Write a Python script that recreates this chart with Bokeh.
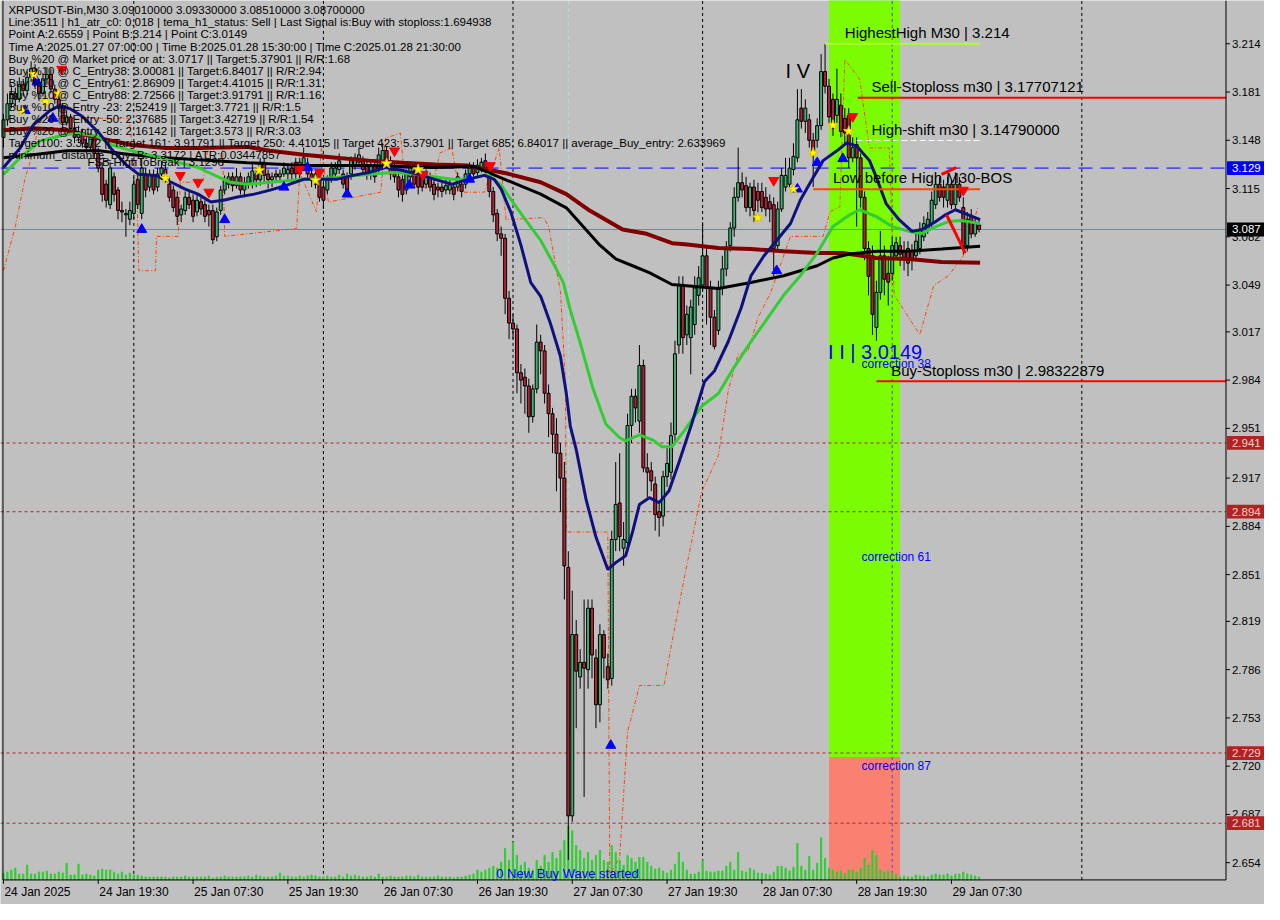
from bokeh.plotting import figure
from bokeh.models import Range1d, Label
from bokeh.embed import file_html
from bokeh.resources import INLINE
from bokeh.core.properties import value

FONT = "Liberation Sans"

# ---------------- data (XRPUSDT M30, bar 0 = 24 Jan 2025 07:30) ----------------
opens = [3.150,3.162,3.173,3.180,3.176,3.186,3.182,3.191,3.197,3.186,
 3.180,3.190,3.193,3.183,3.176,3.170,3.160,3.164,3.156,3.150,
 3.153,3.146,3.143,3.150,3.139,3.129,3.118,3.104,3.123,3.114,
 3.100,3.097,3.094,3.098,3.121,3.098,3.125,3.116,3.124,3.116,
 3.125,3.128,3.118,3.114,3.109,3.097,3.100,3.109,3.107,3.099,
 3.106,3.104,3.100,3.100,3.082,3.100,3.114,3.118,3.123,3.117,
 3.123,3.114,3.118,3.118,3.125,3.121,3.133,3.125,3.121,3.125,
 3.123,3.125,3.125,3.129,3.133,3.125,3.131,3.131,3.125,3.118,
 3.123,3.116,3.114,3.123,3.125,3.128,3.125,3.123,3.125,3.131,
 3.133,3.134,3.131,3.125,3.131,3.129,3.134,3.141,3.134,3.129,
 3.123,3.121,3.114,3.123,3.127,3.125,3.123,3.118,3.123,3.118,
 3.116,3.116,3.114,3.114,3.116,3.116,3.118,3.118,3.125,3.129,
 3.126,3.129,3.134,3.128,3.113,3.098,3.084,3.081,3.040,3.023,
 3.019,2.989,2.986,2.980,2.959,2.978,3.010,3.004,2.975,2.961,
 2.947,2.934,2.917,2.856,2.686,2.810,2.781,2.791,2.786,2.828,
 2.794,2.762,2.810,2.788,2.780,2.875,2.900,2.869,2.873,2.953,
 2.973,2.956,2.994,2.924,2.922,2.913,2.894,2.891,2.918,2.921,
 2.947,3.008,3.049,3.015,3.013,3.022,3.042,3.049,3.069,3.047,
 3.027,3.018,3.047,3.060,3.076,3.088,3.109,3.119,3.117,3.102,
 3.116,3.113,3.113,3.109,3.106,3.104,3.076,3.101,3.116,3.118,
 3.128,3.136,3.170,3.161,3.162,3.148,3.148,3.158,3.195,3.185,
 3.176,3.165,3.172,3.163,3.165,3.136,3.145,3.136,3.109,3.074,
 3.069,3.020,3.044,3.069,3.057,3.057,3.069,3.076,3.072,3.074,
 3.072,3.069,3.074,3.082,3.087,3.091,3.104,3.118,3.116,3.107,
 3.118,3.104,3.118,3.102,3.076,3.096,3.084,3.0901]
closes = [3.162,3.173,3.180,3.176,3.186,3.182,3.191,3.197,3.186,3.180,
 3.190,3.193,3.183,3.176,3.170,3.160,3.164,3.156,3.150,3.153,
 3.146,3.143,3.150,3.139,3.129,3.111,3.107,3.129,3.111,3.100,
 3.099,3.098,3.100,3.118,3.104,3.129,3.114,3.124,3.114,3.125,
 3.129,3.125,3.109,3.102,3.096,3.101,3.109,3.104,3.096,3.107,
 3.101,3.096,3.097,3.080,3.099,3.114,3.121,3.123,3.117,3.123,
 3.114,3.119,3.123,3.127,3.121,3.133,3.124,3.121,3.123,3.123,
 3.125,3.129,3.128,3.125,3.125,3.133,3.136,3.125,3.121,3.125,
 3.109,3.107,3.121,3.129,3.129,3.134,3.118,3.114,3.134,3.136,
 3.138,3.128,3.125,3.131,3.123,3.138,3.141,3.134,3.125,3.123,
 3.114,3.111,3.125,3.129,3.118,3.116,3.116,3.125,3.116,3.111,
 3.114,3.113,3.117,3.118,3.111,3.123,3.113,3.125,3.129,3.125,
 3.131,3.133,3.129,3.113,3.097,3.084,3.081,3.040,3.023,3.019,
 2.989,2.984,2.980,2.959,2.978,3.010,3.004,2.975,2.961,2.947,
 2.934,2.917,2.857,2.686,2.810,2.785,2.791,2.787,2.828,2.796,
 2.762,2.810,2.794,2.779,2.875,2.899,2.877,2.875,2.953,2.973,
 2.965,2.994,2.924,2.921,2.915,2.892,2.890,2.918,2.927,2.946,
 3.002,3.049,3.013,3.029,3.034,3.047,3.054,3.069,3.047,3.027,
 3.007,3.047,3.060,3.074,3.088,3.109,3.119,3.114,3.102,3.116,
 3.100,3.107,3.102,3.101,3.101,3.074,3.101,3.124,3.124,3.129,
 3.137,3.162,3.161,3.170,3.148,3.139,3.158,3.195,3.185,3.164,
 3.156,3.176,3.154,3.153,3.136,3.143,3.136,3.109,3.074,3.055,
 3.029,3.044,3.069,3.053,3.051,3.076,3.078,3.070,3.068,3.064,
 3.066,3.079,3.087,3.091,3.094,3.107,3.118,3.109,3.109,3.118,
 3.104,3.118,3.109,3.076,3.094,3.084,3.091,3.0870]
highs = [3.166,3.180,3.186,3.184,3.191,3.190,3.195,3.202,3.200,3.190,
 3.194,3.198,3.197,3.186,3.180,3.173,3.168,3.166,3.160,3.158,
 3.156,3.150,3.153,3.152,3.143,3.133,3.121,3.133,3.126,3.116,
 3.106,3.101,3.106,3.123,3.126,3.136,3.129,3.128,3.128,3.129,
 3.134,3.133,3.123,3.117,3.113,3.104,3.113,3.113,3.111,3.111,
 3.109,3.107,3.104,3.104,3.102,3.117,3.124,3.126,3.126,3.129,
 3.126,3.123,3.126,3.133,3.129,3.136,3.136,3.128,3.126,3.128,
 3.128,3.133,3.131,3.133,3.136,3.136,3.143,3.136,3.128,3.128,
 3.126,3.119,3.124,3.133,3.133,3.139,3.128,3.126,3.137,3.139,
 3.143,3.137,3.134,3.135,3.134,3.143,3.146,3.144,3.137,3.133,
 3.126,3.124,3.128,3.133,3.131,3.128,3.126,3.128,3.126,3.121,
 3.119,3.119,3.121,3.121,3.119,3.126,3.121,3.128,3.133,3.133,
 3.135,3.136,3.139,3.133,3.116,3.101,3.089,3.084,3.045,3.029,
 3.022,2.995,2.992,2.985,2.981,3.022,3.015,3.008,2.981,2.965,
 2.958,2.941,2.928,2.867,2.840,2.820,2.800,2.834,2.834,2.834,
 2.800,2.817,2.813,2.797,2.881,2.928,2.934,2.887,2.961,2.978,
 2.978,3.008,2.998,2.934,2.928,2.918,2.901,2.922,2.938,2.955,
 3.011,3.055,3.055,3.035,3.039,3.055,3.062,3.092,3.076,3.052,
 3.032,3.052,3.069,3.079,3.092,3.116,3.143,3.126,3.123,3.119,
 3.121,3.119,3.119,3.116,3.111,3.109,3.106,3.129,3.136,3.136,
 3.146,3.183,3.183,3.176,3.166,3.153,3.163,3.207,3.214,3.190,
 3.180,3.197,3.180,3.170,3.170,3.150,3.150,3.139,3.113,3.079,
 3.076,3.052,3.086,3.076,3.069,3.082,3.082,3.082,3.079,3.079,
 3.077,3.084,3.092,3.096,3.099,3.113,3.123,3.123,3.121,3.123,
 3.121,3.126,3.123,3.109,3.099,3.101,3.096,3.0933]
lows = [3.143,3.158,3.170,3.171,3.174,3.178,3.179,3.188,3.183,3.175,
 3.178,3.186,3.180,3.173,3.164,3.156,3.158,3.152,3.146,3.147,
 3.143,3.139,3.141,3.136,3.126,3.106,3.102,3.101,3.106,3.094,
 3.092,3.082,3.090,3.094,3.101,3.094,3.109,3.113,3.111,3.113,
 3.121,3.119,3.106,3.099,3.090,3.092,3.097,3.101,3.092,3.096,
 3.097,3.092,3.089,3.077,3.079,3.097,3.111,3.115,3.113,3.115,
 3.111,3.109,3.115,3.115,3.116,3.117,3.119,3.115,3.116,3.119,
 3.119,3.123,3.121,3.119,3.121,3.121,3.128,3.121,3.116,3.115,
 3.106,3.101,3.111,3.119,3.121,3.125,3.115,3.111,3.121,3.128,
 3.131,3.124,3.121,3.121,3.119,3.126,3.131,3.129,3.121,3.119,
 3.109,3.106,3.111,3.119,3.115,3.111,3.113,3.115,3.113,3.107,
 3.109,3.109,3.111,3.111,3.107,3.113,3.109,3.115,3.121,3.121,
 3.123,3.126,3.126,3.109,3.092,3.079,3.069,3.029,3.012,3.012,
 2.975,2.968,2.961,2.948,2.955,2.975,2.988,2.968,2.945,2.934,
 2.908,2.894,2.834,2.6559,2.682,2.746,2.773,2.699,2.773,2.780,
 2.746,2.750,2.780,2.773,2.775,2.867,2.867,2.857,2.867,2.941,
 2.955,2.948,2.921,2.904,2.908,2.881,2.877,2.884,2.911,2.916,
 2.941,3.002,3.002,3.008,2.988,3.015,3.035,3.045,3.022,3.008,
 3.005,3.015,3.042,3.055,3.072,3.082,3.106,3.109,3.099,3.096,
 3.092,3.099,3.099,3.096,3.092,3.055,3.072,3.099,3.113,3.115,
 3.124,3.133,3.156,3.153,3.143,3.116,3.143,3.155,3.180,3.160,
 3.151,3.160,3.150,3.146,3.129,3.133,3.089,3.102,3.066,3.042,
 3.015,3.011,3.039,3.042,3.035,3.052,3.066,3.062,3.059,3.055,
 3.059,3.066,3.070,3.079,3.084,3.088,3.101,3.106,3.102,3.102,
 3.101,3.101,3.106,3.070,3.072,3.081,3.082,3.0851]
volumes = [7,8,10,12,6,6,15,6,6,8,8,9,6,6,8,7,17,5,5,16,5,6,5,4,10,
 11,10,10,8,6,8,5,7,5,
 5,4,3,3,3,3,3,3,2,3,3,3,4,3,3,3,3,3,4,2,3,3,4,3,3,3,3,
 3,4,3,5,4,3,3,3,4,7,4,4,3,3,4,3,4,5,4,3,3,4,3,3,5,3,6,4,5,4,
 3,3,4,3,6,3,3,4,3,3,3,4,4,3,5,3,3,3,3,4,3,3,3,2,3,3,4,5,6,10,
 8,10,12,14,12,18,32,20,38,25,
 15,18,12,10,20,14,25,18,28,22,30,40,55,50,35,30,22,28,20,25,30,20,18,35,28,20,15,25,22,18,
 23,23,18,14,11,12,9,7,10,16,28,18,10,6,6,8,20,9,8,8,9,9,14,18,10,28,9,8,12,10,
 7,7,6,5,8,14,14,12,9,13,37,14,10,24,10,17,43,22,12,10,8,9,6,10,10,8,12,22,15,30,
 25,10,8,9,7,6,3,4,3,3,5,4,4,3,5,6,5,5,6,4,6,6,8,6,5,4,3]
bars = list(range(len(closes)))

time_ticks = [0, 24, 48, 72, 96, 120, 144, 168, 192, 216, 240]
time_labels = ["24 Jan 2025", "24 Jan 19:30", "25 Jan 07:30", "25 Jan 19:30", "26 Jan 07:30",
               "26 Jan 19:30", "27 Jan 07:30", "27 Jan 19:30", "28 Jan 07:30", "28 Jan 19:30",
               "29 Jan 07:30"]
price_ticks = [3.214, 3.181, 3.148, 3.115, 3.082, 3.049, 3.017, 2.984, 2.951, 2.917,
               2.884, 2.851, 2.819, 2.786, 2.753, 2.720, 2.687, 2.654]
day_starts = [33, 81, 129, 177, 273]
day_start_zone = 225

blue_x = [0,4.25,7.5,11.75,14.25,16.75,20,24.25,27.5,31,34.25,38.5,42.5,46,49.25,52.5,56,59.25,63.5,67.5,
 71.75,76,81,84.25,88.5,92.5,96.75,101,105,109.25,113.5,117.5,121.75,124.25,126,128.5,131,133.5,136,138.5,
 141,142.5,143.5,145,147.5,150,153,155,157.5,159.25,161,163.5,166,168.5,171,174.25,177.5,180,183.5,186.75,
 189.25,192.5,196,199.25,201.75,205,207.5,211,213.5,216,219.25,221,223.5,226.75,230,232.5,236,238.5,241,243.5,247.25]
blue_y = [3.1294,3.1428,3.1583,3.1683,3.1717,3.1697,3.1643,3.1529,3.1415,3.1314,3.1247,3.1240,3.1193,3.1146,3.1112,
 3.1058,3.1072,3.1092,3.1112,3.1139,3.1173,3.1213,3.1213,3.1213,3.1240,3.1260,3.1294,3.1273,3.1247,3.1213,
 3.1179,3.1213,3.1240,3.1213,3.1146,3.0985,3.0763,3.0507,3.0413,3.0225,3.0003,2.9748,2.9526,2.9365,2.9022,
 2.8767,2.8545,2.8592,2.8639,2.8800,2.8989,2.9036,2.9002,2.9083,2.9277,2.9542,2.9831,2.9903,3.0104,3.0333,
 3.0554,3.0689,3.0803,3.0911,3.1072,3.1226,3.1341,3.1408,3.1462,3.1441,3.1341,3.1226,3.1045,3.0937,3.0857,
 3.0870,3.0924,3.0971,3.1005,3.0978,3.0937]
green_x = [0,4.25,9.25,14.25,18.5,23.5,27.5,32.5,36.75,42.5,49.25,53.5,57.5,61.75,67.5,76,84.25,92.5,98.5,105,
 113.5,117.5,122.5,126,129.25,132.5,136,139.25,141.75,143.5,146,149.25,152.5,156,157.5,161,164.25,166.75,169.25,
 172.5,176.75,181,185,189.25,193.5,197.5,201.75,206,210,214.25,216.75,221,225,229.25,232.5,236,239.25,242.5,247.25]
green_y = [3.1247,3.1361,3.1475,3.1509,3.1529,3.1509,3.1448,3.1408,3.1381,3.1341,3.1294,3.1240,3.1193,3.1179,3.1193,
 3.1213,3.1226,3.1247,3.1260,3.1247,3.1213,3.1213,3.1247,3.1173,3.1045,3.0924,3.0796,3.0635,3.0507,3.0319,
 3.0097,2.9782,2.9540,2.9446,2.9425,2.9466,2.9432,2.9385,2.9385,2.9499,2.9661,2.9748,2.9929,3.0104,3.0265,
 3.0420,3.0554,3.0709,3.0890,3.0971,3.1005,3.0958,3.0890,3.0857,3.0843,3.0890,3.0924,3.0931,3.0911]
black_x = [0,7.5,16,24.25,32.5,41,49.25,61.75,76,92.5,109.25,119.25,127.5,136,142.5,146.75,151,155,159.25,163.5,
 169.25,181,189.25,197.5,201.75,206,210,214.25,221,229.25,237.5,247.25]
black_y = [3.1361,3.1381,3.1408,3.1408,3.1381,3.1361,3.1347,3.1327,3.1307,3.1307,3.1294,3.1300,3.1206,3.1112,3.1018,
 3.0890,3.0763,3.0669,3.0622,3.0575,3.0494,3.0467,3.0507,3.0554,3.0588,3.0622,3.0675,3.0702,3.0722,3.0722,3.0736,3.0756]
maroon_x = [0,7.5,16,24.25,32.5,41,49.25,61.75,67.5,76,84.25,92.5,101,109.25,117.5,127.5,136,142.5,148.5,156.75,
 162.5,169.25,172.5,181,189.25,197.5,206,212.5,221,229.25,237.5,247.25]
maroon_y = [3.1549,3.1562,3.1549,3.1495,3.1448,3.1428,3.1428,3.1435,3.1408,3.1381,3.1361,3.1341,3.1327,3.1314,3.1307,
 3.1253,3.1193,3.1112,3.0998,3.0870,3.0843,3.0776,3.0769,3.0743,3.0736,3.0722,3.0709,3.0709,3.0675,3.0669,3.0648,3.0642]
trail_x = [0,3,5.5,7.5,9.25,31.75,33.75,34.25,38.5,38.75,44.25,44.75,50.5,51.75,55.5,56,74.25,75,79.25,80.5,
 82.25,95.5,96.75,100.5,101.75,108.5,110.5,113.5,115.5,121.75,124.25,125.5,127.25,136.75,138,141,142.25,142.5,
 153,153.5,156,158,159.25,161,167.25,168.5,171.75,176.75,181,183.5,186,188.5,191,194.25,199.25,207.5,209.25,
 211.75,213,216.75,219.25,224.25,225.5,232,235.5,239.25,243,246.75]
trail_y = [3.0588,3.0890,3.1226,3.1394,3.1630,3.1630,3.1193,3.0588,3.0588,3.0823,3.0823,3.1193,3.1193,3.1428,3.1428,
 3.0823,3.0877,3.1260,3.0991,3.1428,3.1058,3.1125,3.1495,3.1529,3.1159,3.1159,3.1394,3.1428,3.1125,3.1125,
 3.1327,3.1428,3.0937,3.0951,3.0890,3.0447,2.9842,2.8801,2.8801,2.6455,2.6576,2.7436,2.7564,2.7752,2.7752,
 2.7940,2.8404,2.9076,2.9325,2.9768,3.0017,3.0037,3.0265,3.0440,3.0823,3.0823,3.0991,3.1025,3.2033,3.1898,
 3.1428,3.1428,3.0420,3.0151,3.0487,3.0554,3.0689,3.1025]

buy_arrow_x = [5.5,8.5,12.5,35,56,71,77,87,102.75,118,153.75,195.75,201,206,212.5]
buy_arrow_y = [3.1683,3.1878,3.1630,3.0870,3.0937,3.1159,3.1294,3.1112,3.1173,3.1213,2.7342,3.0588,3.1146,3.1327,3.1354]
sell_arrow_x = [14.75,44.75,49.25,52,75,80,99,106.25,123.25,195,215,243]
sell_arrow_y = [3.1966,3.1240,3.1193,3.1126,3.1280,3.1260,3.1408,3.1247,3.1307,3.1206,3.1643,3.1139]
star_x = [7.75,14,10.75,4.75,41,64.75,79,97,105,191,200,205,210,214]
star_y = [3.1932,3.1798,3.1744,3.1683,3.1220,3.1273,3.1206,3.1321,3.1280,3.0951,3.1146,3.1394,3.1583,3.1542]

zone_left, zone_right = 209, 227
zone_split = 2.7262

level_blue = 3.129
level_bid = 3.087
levels_red = [2.941, 2.894, 2.729, 2.681]
highest_high = 3.214
sell_stop = 3.17707121
high_shift = 3.1479
low_before_high = 3.1146
buy_stop = 2.98322879

info_lines = [
    "XRPUSDT-Bin,M30  3.09010000 3.09330000 3.08510000 3.08700000",
    "Line:3511 | h1_atr_c0: 0.018 | tema_h1_status: Sell | Last Signal is:Buy with stoploss:1.694938",
    "Point A:2.6559 | Point B:3.214 | Point C:3.0149",
    "Time A:2025.01.27 07:00:00 | Time B:2025.01.28 15:30:00 | Time C:2025.01.28 21:30:00",
    "Buy %20 @ Market price or at: 3.0717 || Target:5.37901 || R/R:1.68",
    "Buy %10 @ C_Entry38: 3.00081 || Target:6.84017 || R/R:2.94",
    "Buy %10 @ C_Entry61: 2.86909 || Target:4.41015 || R/R:1.31",
    "Buy %10 @ C_Entry88: 2.72566 || Target:3.91791 || R/R:1.16",
    "Buy %10 @ Entry -23: 2.52419 || Target:3.7721 || R/R:1.5",
    "Buy %20 @ Entry -50: 2.37685 || Target:3.42719 || R/R:1.54",
    "Buy %20 @ Entry -88: 2.16142 || Target:3.573 || R/R:3.03",
    "Target100: 3.3172 || Target 161: 3.91791 || Target 250: 4.41015 || Target 423: 5.37901 || Target 685: 6.84017 || average_Buy_entry: 2.633969",
    "minimum_distance_Buy_B: 3.3172 | ATR:0.03447857",
]

# ---------------- canvas geometry (bar units / price units) ----------------
X0, X1 = -0.75, 319.25          # whole canvas width
Y0, Y1 = 2.6254, 3.2436         # whole canvas height
AXIS_X = 309.5                  # price-scale line
BASE_Y = 2.6422                 # time-scale line
PX_X = 0.25                     # one screen pixel in bars
PX_Y = 0.000672                 # one screen pixel in price

p = figure(width=1264, height=904, x_range=Range1d(X0, X1), y_range=Range1d(Y0, Y1),
           x_axis_type=None, y_axis_type=None, toolbar_location=None, output_backend="svg",
           background_fill_color="#c0c0c0", border_fill_color="#c0c0c0", outline_line_color=None,
           min_border_left=0, min_border_right=0, min_border_top=0, min_border_bottom=0)
p.grid.visible = False

# zones
p.quad(left=[zone_left], right=[zone_right], bottom=[zone_split], top=[Y1 + 0.01], color="#7cfc00", line_width=0)
p.quad(left=[zone_left], right=[zone_right], bottom=[BASE_Y], top=[zone_split], color="#fa8072", line_width=0)

# period separators
p.segment(x0=day_starts, x1=day_starts, y0=[BASE_Y]*len(day_starts), y1=[Y1]*len(day_starts),
          line_color="black", line_dash="3 3", line_width=1)
p.segment(x0=[day_start_zone], x1=[day_start_zone], y0=[BASE_Y], y1=[Y1],
          line_color="#4b4bd0", line_dash="3 3", line_width=1)
p.segment(x0=[143], x1=[143], y0=[BASE_Y], y1=[Y1], line_color="#b0e0e6", line_dash="4 3", line_width=1)

# volume (own scale, 0 at the time-scale line)
p.extra_y_ranges = {"vol": Range1d(-25, 895)}
p.vbar(x=bars, top=volumes, bottom=0, width=0.3, color="#32cd32", y_range_name="vol")

# horizontal levels
p.segment(x0=[X0], x1=[AXIS_X], y0=[level_blue], y1=[level_blue], line_color="#0000ff", line_dash="14 8", line_width=1)
p.segment(x0=[X0], x1=[AXIS_X], y0=[level_bid], y1=[level_bid], line_color="#778899", line_width=1)
p.segment(x0=[X0]*4, x1=[AXIS_X]*4, y0=levels_red, y1=levels_red, line_color="#a52a2a", line_dash="3 3", line_width=1)

# trail
p.line(trail_x, trail_y, line_color="#ff4500", line_dash="4 2 1 2", line_width=1)

# candles
inc = [i for i in bars if closes[i] >= opens[i]]
dec = [i for i in bars if closes[i] < opens[i]]
p.segment(x0=bars, x1=bars, y0=lows, y1=highs, line_color="black", line_width=1)
p.vbar(x=inc, bottom=[opens[i] for i in inc], top=[closes[i] for i in inc], width=0.75,
       fill_color="#3cb371", line_color="black", line_width=1)
p.vbar(x=dec, bottom=[closes[i] for i in dec], top=[opens[i] for i in dec], width=0.75,
       fill_color="#b22234", line_color="black", line_width=1)

# moving averages
p.line(maroon_x, maroon_y, line_color="#800000", line_width=4)
p.line(black_x, black_y, line_color="#000000", line_width=3)
p.line(green_x, green_y, line_color="#32cd32", line_width=3)
p.line(blue_x, blue_y, line_color="#10107f", line_width=3)

# object lines
p.segment(x0=[208], x1=[247.25], y0=[highest_high], y1=[highest_high], line_color="#adff2f", line_width=2)
p.segment(x0=[216.25], x1=[AXIS_X], y0=[sell_stop], y1=[sell_stop], line_color="#ff0000", line_width=2)
p.segment(x0=[216], x1=[247.25], y0=[high_shift], y1=[high_shift], line_color="white", line_dash="6 3", line_width=1)
p.segment(x0=[205], x1=[247.25], y0=[low_before_high], y1=[low_before_high], line_color="#ff4500", line_width=2)
p.segment(x0=[221], x1=[AXIS_X], y0=[buy_stop], y1=[buy_stop], line_color="#ff0000", line_width=2)
p.segment(x0=[237.5, 238.75], x1=[241.25, 243.5], y0=[3.1247, 3.0971], y1=[3.1294, 3.0709],
          line_color="#ff0000", line_width=3)

# signals
p.scatter(buy_arrow_x, buy_arrow_y, marker="triangle", size=10, fill_color="#0000ff", line_color="#0000ff")
p.scatter(sell_arrow_x, sell_arrow_y, marker="inverted_triangle", size=10, fill_color="#ff0000", line_color="#ff0000")
p.scatter(star_x, star_y, marker="star", size=11, fill_color="#ffff00", line_color="#e0c000")

# ---------------- scales drawn by hand (MT4 style) ----------------
p.segment(x0=[AXIS_X, -0.125, -0.125], x1=[AXIS_X, -0.125, AXIS_X], y0=[BASE_Y, BASE_Y, BASE_Y],
          y1=[Y1, Y1, BASE_Y], line_color="black", line_width=1)
n = len(price_ticks)
p.segment(x0=[AXIS_X]*n, x1=[AXIS_X + 4*PX_X]*n, y0=price_ticks, y1=price_ticks, line_color="black", line_width=1)
p.text(x=[AXIS_X + 6*PX_X]*n, y=price_ticks, text=["%.3f" % v for v in price_ticks],
       text_font=value(FONT), text_font_size="11.5px", text_color="black",
       text_align="left", text_baseline="middle")
m = len(time_ticks)
p.segment(x0=time_ticks, x1=time_ticks, y0=[BASE_Y]*m, y1=[BASE_Y - 4*PX_Y]*m, line_color="black", line_width=1)
p.text(x=[t + PX_X for t in time_ticks], y=[BASE_Y - 5*PX_Y]*m, text=time_labels,
       text_font=value(FONT), text_font_size="12px", text_color="black",
       text_align="left", text_baseline="top")

# price boxes on the price scale
box_levels = [level_blue, level_bid] + levels_red
box_fill = ["#0000ff", "#000000"] + ["#b22222"] * 4
box_text_color = ["white", "white"] + ["#ffd0d0"] * 4
p.quad(left=[AXIS_X + PX_X]*6, right=[X1]*6, bottom=[v - 7*PX_Y for v in box_levels],
       top=[v + 7*PX_Y for v in box_levels], fill_color=box_fill, line_color=None)
p.text(x=[AXIS_X + 6*PX_X]*6, y=box_levels, text=["%.3f" % v for v in box_levels],
       text_font=value(FONT), text_font_size="11.5px", text_color=box_text_color,
       text_align="left", text_baseline="middle")

# info text (top left)
for k, line in enumerate(info_lines):
    p.add_layout(Label(x=1.25, y=3.2369 - k * 0.00827, text=line, text_align="left", text_baseline="middle",
                       text_font=FONT, text_font_size="11.5px", text_color="black"))
p.add_layout(Label(x=21.25, y=3.1334, text="FSB-HighToBreak | 3.1296", text_align="left", text_baseline="middle",
                   text_font=FONT, text_font_size="11.5px", text_color="black"))

def note(x, y, txt, size="15px", color="black"):
    p.add_layout(Label(x=x, y=y, text=txt, text_align="left", text_baseline="middle",
                       text_font=FONT, text_font_size=size, text_color=color))

note(213, 3.2214, "HighestHigh   M30 | 3.214")
note(219.75, 3.1845, "Sell-Stoploss m30 | 3.17707121")
note(219.75, 3.1556, "High-shift m30 | 3.14790000")
note(210, 3.1226, "Low before High   M30-BOS")
note(224.75, 2.9909, "Buy-Stoploss m30 | 2.98322879")
note(198, 3.1952, "I V", size="20px")
note(208.75, 3.0030, "I I | 3.0149", size="20px", color="#0000ff")
note(217.25, 2.9950, "correction 38", size="12px", color="#0000ff")
note(217.25, 2.8632, "correction 61", size="12px", color="#0000ff")
note(217.25, 2.7201, "correction 87", size="12px", color="#0000ff")
note(124.75, 2.6469, "0 New Buy Wave started", size="13px", color="#0000ff")

open("out.html", "w").write(file_html(p, INLINE))
